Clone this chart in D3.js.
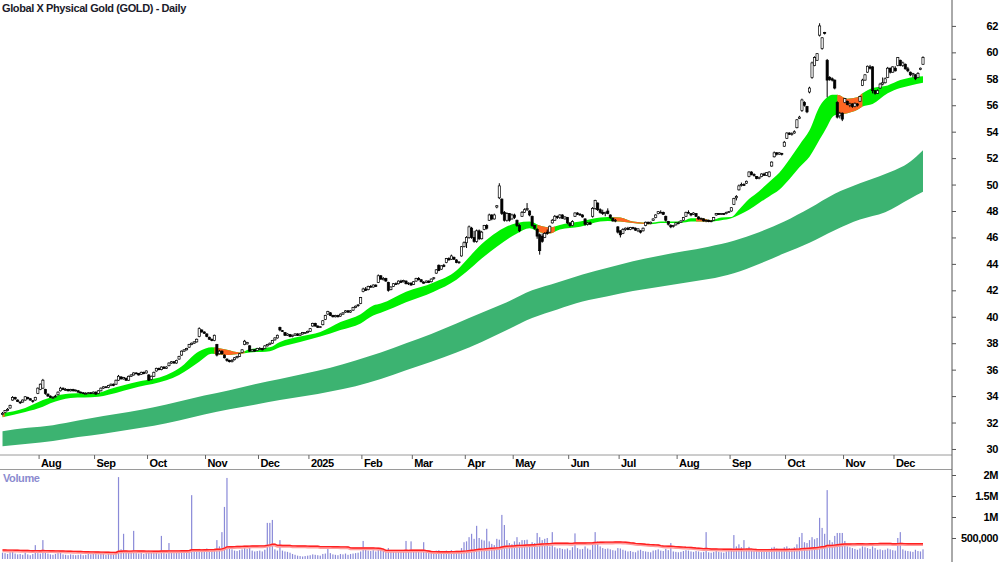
<!DOCTYPE html>
<html>
<head>
<meta charset="utf-8">
<script src="https://cdn.jsdelivr.net/npm/d3@7"></script>
<style>
  body { margin: 0; background: #fff; }
  svg text { font-family: "Liberation Sans", Arial, sans-serif; font-weight: bold; font-size: 11px; letter-spacing: -0.4px; }
</style>
</head>
<body>
<svg id="chart" width="1000" height="562"></svg>
<script>
// daily bars: [open, high, low, close, volume (thousands)]
const jul24 = [
  [32.6,32.8,32.55,32.7,150],[32.75,32.95,32.7,32.9,140],[32.9,33.1,32.85,33.0,120],[33.1,33.35,33.05,33.3,160],
  [33.7,34.0,33.65,33.9,210],[33.9,33.95,33.7,33.8,130],[33.7,33.75,33.55,33.6,110],[33.55,33.6,33.4,33.5,120],
  [33.55,33.75,33.5,33.7,100],[33.7,34.0,33.65,33.95,150],[33.9,33.95,33.75,33.8,110],[33.8,33.85,33.65,33.7,90],
  [33.65,33.7,33.5,33.6,120],[33.7,33.95,33.65,33.9,330],[34.2,34.65,34.15,34.6,140]
];
const aug24 = [
  [34.5,34.95,34.45,34.9,130],[34.6,35.3,34.55,35.2,450],[34.5,34.55,34.1,34.2,160],[34.15,34.2,33.95,34.0,130],
  [34.0,34.05,33.85,33.9,110],[33.85,34.0,33.8,33.9,100],[33.95,34.1,33.9,34.0,120],[34.1,34.35,34.05,34.3,140],
  [34.4,34.7,34.35,34.6,160],[34.6,34.65,34.45,34.5,110],[34.45,34.6,34.4,34.5,100],[34.5,34.55,34.35,34.4,90],
  [34.4,34.55,34.35,34.5,110],[34.5,34.55,34.35,34.4,100],[34.4,34.5,34.35,34.45,90],[34.4,34.45,34.25,34.3,100],
  [34.3,34.35,34.2,34.25,110],[34.25,34.3,34.15,34.2,90],[34.2,34.3,34.15,34.2,100],[34.2,34.3,34.15,34.25,120],
  [34.25,34.3,34.15,34.2,110],[34.2,34.35,34.15,34.3,130]
];
const sep24 = [
  [34.3,34.35,34.1,34.15,120],[34.2,34.45,34.15,34.4,110],[34.4,34.65,34.35,34.6,130],[34.6,34.75,34.55,34.7,120],
  [34.7,34.75,34.6,34.65,100],[34.65,34.85,34.6,34.8,140],[34.8,34.95,34.75,34.9,130],[34.9,34.95,34.75,34.8,110],
  [34.9,35.25,34.85,35.2,150],[35.2,35.6,35.15,35.5,1950],[35.45,35.5,35.25,35.3,230],[35.3,35.45,35.25,35.4,600],
  [35.35,35.4,35.15,35.2,180],[35.2,35.55,35.15,35.5,160],[35.5,35.65,35.45,35.6,150],[35.6,35.8,35.55,35.75,670],
  [35.75,35.8,35.65,35.7,140],[35.7,35.75,35.55,35.6,130],[35.65,35.85,35.6,35.8,150],[35.8,35.85,35.65,35.7,120],
  [35.75,35.95,35.7,35.9,140]
];
const oct24 = [
  [35.6,35.65,35.15,35.2,200],[35.25,35.55,35.2,35.5,150],[35.5,35.85,35.45,35.8,140],[35.9,36.15,35.85,36.1,160],
  [36.1,36.15,35.95,36.0,130],[36.0,36.25,35.95,36.2,550],[36.2,36.25,36.05,36.1,140],[36.1,36.25,36.05,36.2,130],
  [36.3,36.55,36.25,36.5,380],[36.5,36.65,36.45,36.6,160],[36.6,36.65,36.45,36.5,140],[36.5,36.75,36.45,36.7,150],
  [36.8,37.05,36.75,37.0,180],[37.1,37.45,37.05,37.4,200],[37.4,37.55,37.35,37.5,170],[37.5,37.65,37.45,37.6,160],
  [37.7,37.95,37.65,37.9,190],[37.9,38.05,37.85,38.0,1520],[38.0,38.15,37.95,38.1,210],[38.1,38.35,38.05,38.3,200],
  [38.5,39.2,38.45,39.1,240],[39.0,39.05,38.8,38.85,220],[38.85,38.9,38.7,38.75,200]
];
const nov24 = [
  [38.7,38.75,38.45,38.5,250],[38.45,38.5,38.25,38.3,220],[38.3,38.35,38.15,38.2,200],[38.2,38.65,38.15,38.6,240],
  [37.9,37.95,37.0,37.1,450],[37.2,37.5,37.15,37.4,300],[37.4,37.45,37.15,37.2,640],[37.1,37.15,36.85,36.9,1240],
  [36.8,36.85,36.6,36.7,1930],[36.7,36.75,36.55,36.6,260],[36.6,36.8,36.55,36.7,230],[36.75,36.95,36.7,36.9,200],
  [36.9,37.05,36.85,37.0,190],[37.0,37.25,36.95,37.2,210],[37.3,37.55,37.25,37.5,230],[37.9,38.25,37.85,38.15,260],
  [37.95,38.1,37.9,38.05,240],[37.8,37.85,37.35,37.4,280],[37.4,37.55,37.35,37.5,200],[37.5,37.55,37.35,37.4,180],
  [37.45,37.65,37.4,37.6,190]
];
const dec24 = [
  [37.6,37.7,37.5,37.6,200],[37.6,37.65,37.45,37.5,180],[37.6,37.85,37.55,37.8,220],[37.8,37.95,37.75,37.9,860],
  [37.9,38.05,37.85,38.0,860],[38.0,38.25,37.95,38.2,930],[38.25,38.45,38.2,38.4,230],[38.4,38.65,38.35,38.6,200],
  [39.2,39.25,38.9,39.0,450],[38.95,39.0,38.85,38.9,200],[38.8,38.85,38.55,38.6,180],[38.6,38.75,38.55,38.7,170],
  [38.65,38.7,38.45,38.5,150],[38.5,38.65,38.45,38.6,120],[38.6,38.75,38.55,38.7,100],[38.7,38.75,38.55,38.6,80],
  [38.6,38.75,38.55,38.7,70],[38.7,38.85,38.65,38.8,60],[38.8,38.85,38.7,38.8,70],[38.8,38.95,38.75,38.9,80]
];
const jan25 = [
  [38.9,39.15,38.85,39.1,90],[39.3,39.55,39.25,39.5,110],[39.5,39.55,39.25,39.3,100],[39.3,39.35,39.15,39.2,90],
  [39.2,39.3,39.15,39.25,80],[39.4,39.75,39.35,39.7,120],[39.8,40.15,39.75,40.1,130],[40.2,40.45,40.15,40.4,310],
  [40.3,40.35,40.05,40.1,140],[40.1,40.15,39.95,40.0,110],[40.0,40.15,39.95,40.1,100],[40.1,40.15,39.95,40.0,90],
  [40.05,40.25,40.0,40.2,120],[40.2,40.35,40.15,40.3,110],[40.35,40.5,40.3,40.45,130],[40.45,40.5,40.3,40.35,100],
  [40.35,40.5,40.3,40.45,120],[40.5,40.75,40.45,40.7,130],[40.7,40.85,40.65,40.8,140],[40.85,40.95,40.75,40.9,150],
  [41.0,41.5,40.95,41.45,180]
];
const feb25 = [
  [41.9,42.2,41.85,42.1,430],[42.1,42.25,41.95,42.0,220],[42.05,42.35,42.0,42.3,200],[42.3,42.4,42.2,42.25,190],
  [42.25,42.45,42.2,42.4,210],[42.4,42.45,42.25,42.3,180],[42.6,43.2,42.55,43.1,240],[43.1,43.15,42.8,42.85,220],
  [42.8,43.0,42.75,42.9,200],[42.9,42.95,42.65,42.7,190],[42.6,42.65,41.9,42.0,260],[42.05,42.3,42.0,42.25,210],
  [42.3,42.55,42.25,42.5,190],[42.5,42.6,42.4,42.45,180],[42.5,42.75,42.45,42.7,200],[42.7,42.8,42.55,42.6,190],
  [42.65,42.8,42.6,42.75,210],[42.7,42.75,42.45,42.5,430],[42.5,42.6,42.4,42.55,200],[42.55,42.6,42.35,42.4,420]
];
const mar25 = [
  [42.45,42.7,42.4,42.65,180],[42.7,42.95,42.65,42.9,190],[42.9,43.0,42.75,42.8,170],[42.8,42.85,42.6,42.65,160],
  [42.6,42.7,42.5,42.55,400],[42.6,42.75,42.55,42.7,170],[42.7,42.75,42.55,42.6,150],[42.65,42.9,42.6,42.85,160],
  [42.9,43.0,42.8,42.95,170],[43.3,43.6,43.25,43.55,200],[43.9,43.95,43.45,43.5,210],[43.6,43.9,43.55,43.85,190],
  [43.9,44.0,43.75,43.8,170],[44.1,44.45,44.05,44.4,200],[44.4,44.5,44.25,44.3,190],[44.35,44.7,44.3,44.6,210],
  [44.5,44.55,44.3,44.35,180],[44.3,44.35,44.05,44.1,170],[44.1,44.2,44.0,44.15,160],[44.6,45.35,44.55,45.3,260],
  [45.3,45.7,45.25,45.6,400]
];
const apr25 = [
  [45.6,46.1,45.2,46.0,420],[46.0,46.9,45.9,46.8,520],[46.7,46.8,45.9,46.0,600],[46.0,46.5,45.6,45.7,480],
  [45.7,46.6,45.6,46.5,790],[46.5,46.6,45.8,45.9,500],[45.9,46.5,45.85,46.4,460],[46.6,46.95,46.55,46.9,440],
  [46.9,47.0,46.6,46.7,720],[47.3,47.8,47.25,47.7,420],[47.7,47.75,47.3,47.4,360],[47.4,47.8,47.35,47.7,330],
  [48.3,48.45,48.2,48.4,480],[49.0,50.1,48.9,49.9,460],[48.9,48.95,47.7,47.8,1050],[47.9,48.0,47.2,47.3,810],
  [47.3,47.9,47.2,47.8,450],[47.8,47.85,47.2,47.3,380],[47.4,47.8,47.35,47.7,350]
];
const may25 = [
  [47.7,47.8,47.4,47.5,420],[47.3,47.35,46.8,46.9,520],[46.9,47.0,46.4,46.5,400],[47.6,48.0,47.55,47.9,450],
  [47.9,48.2,47.85,48.1,450],[48.1,48.6,48.0,48.2,460],[48.0,48.05,47.6,47.7,350],[47.6,47.65,46.8,46.9,400],
  [46.9,46.95,46.6,46.7,380],[46.6,46.7,45.9,46.1,620],[46.2,46.3,44.7,45.0,520],[46.1,46.3,45.6,45.7,450],
  [46.0,46.4,45.95,46.3,480],[46.4,46.6,46.2,46.3,500],[46.4,46.9,46.35,46.85,300],[47.1,47.4,47.05,47.3,640],
  [47.3,47.7,47.25,47.6,280],[47.6,47.65,47.4,47.5,250],[47.5,47.75,47.4,47.7,260],[47.7,47.75,47.4,47.45,240],
  [47.4,47.6,47.35,47.55,230],[47.5,47.55,47.0,47.1,250]
];
const jun25 = [
  [47.1,47.15,46.8,46.9,210],[46.9,47.3,46.85,47.2,280],[47.6,47.9,47.55,47.85,610],[47.85,47.9,47.7,47.75,260],
  [47.75,47.85,47.65,47.7,230],[47.7,47.75,47.5,47.55,240],[47.4,47.45,46.9,47.0,300],[47.0,47.15,46.9,47.1,250],
  [47.1,47.2,46.95,47.0,220],[47.6,48.3,47.5,48.2,350],[48.2,48.85,48.1,48.8,640],[48.6,48.65,48.0,48.1,420],
  [48.1,48.2,47.8,47.9,300],[47.9,48.1,47.7,47.8,260],[47.8,47.95,47.6,47.9,240],[48.0,48.2,47.75,47.8,250],
  [47.7,47.75,47.4,47.5,230],[47.45,47.5,47.2,47.25,210],[47.3,47.4,47.15,47.3,200],[46.8,46.85,46.3,46.4,260]
];
const jul25 = [
  [46.5,46.55,46.0,46.2,250],[46.3,46.7,46.25,46.6,220],[46.6,46.75,46.5,46.7,200],[46.7,46.8,46.55,46.6,180],
  [46.6,46.8,46.55,46.75,190],[46.75,46.8,46.6,46.7,170],[46.7,46.75,46.5,46.55,160],[46.5,46.7,46.4,46.65,200],
  [46.5,46.55,46.3,46.4,220],[46.5,46.75,46.45,46.7,190],[46.9,47.2,46.85,47.15,180],[47.15,47.2,47.0,47.05,170],
  [47.05,47.2,47.0,47.15,160],[47.3,47.45,47.25,47.4,200],[47.5,47.75,47.45,47.7,210],[47.8,48.0,47.75,47.95,230],
  [47.9,48.05,47.85,47.9,200],[47.9,47.95,47.7,47.75,190],[47.6,47.65,47.2,47.3,240],[47.2,47.25,46.9,47.0,210],
  [46.9,47.0,46.7,46.8,380],[46.85,46.95,46.75,46.9,180],[46.95,47.15,46.9,47.1,170]
];
const aug25 = [
  [47.1,47.2,47.0,47.1,160],[47.15,47.3,47.1,47.25,170],[47.3,47.55,47.25,47.5,190],[47.6,47.95,47.55,47.9,210],
  [47.9,48.05,47.8,47.85,200],[47.8,47.85,47.6,47.7,180],[47.75,47.9,47.7,47.85,170],[47.8,47.85,47.55,47.6,190],
  [47.55,47.6,47.35,47.4,180],[47.4,47.5,47.3,47.45,160],[47.4,47.45,47.2,47.25,170],[47.25,47.35,47.15,47.3,640],
  [47.3,47.35,47.15,47.2,160],[47.2,47.3,47.15,47.25,150],[47.3,47.55,47.25,47.5,170],[47.7,47.85,47.65,47.8,190],
  [47.8,47.85,47.7,47.75,170],[47.75,47.85,47.7,47.8,160],[47.8,47.85,47.7,47.75,150],[47.8,47.95,47.75,47.9,180],
  [47.9,48.0,47.85,47.95,200]
];
const sep25 = [
  [48.0,48.3,47.95,48.25,230],[48.5,49.0,48.45,48.95,570],[49.0,49.2,48.8,49.1,300],[49.6,50.0,49.55,49.9,350],
  [49.95,50.15,49.85,50.0,280],[50.0,50.1,49.9,49.95,450],[50.1,50.3,50.05,50.25,260],[50.6,51.0,50.55,50.95,290],
  [50.95,51.0,50.7,50.75,250],[50.75,50.85,50.6,50.7,230],[50.6,50.65,50.4,50.45,220],[50.45,50.6,50.4,50.55,200],
  [50.6,50.85,50.55,50.8,210],[50.8,50.9,50.65,50.7,200],[50.7,50.95,50.65,50.9,220],[50.6,51.0,50.55,50.95,240],
  [51.4,51.75,51.35,51.7,270],[52.1,52.5,52.05,52.4,290],[52.4,52.45,52.2,52.3,250],[52.3,52.45,52.25,52.4,230],
  [52.35,52.4,52.2,52.3,220],[52.9,53.3,52.85,53.2,280]
];
const oct25 = [
  [53.5,53.95,53.45,53.9,300],[53.9,53.95,53.75,53.8,260],[53.8,53.95,53.7,53.85,250],[53.9,54.1,53.85,54.0,280],
  [54.3,54.95,54.25,54.9,350],[55.0,55.2,54.95,55.1,520],[55.6,56.5,55.5,56.4,620],[56.2,56.3,55.9,56.0,400],
  [55.9,55.95,55.4,55.5,380],[57.0,57.4,56.9,57.3,450],[58.1,59.3,58.0,59.2,520],[59.0,59.7,58.95,59.6,470],
  [59.4,59.95,59.35,59.9,500],[61.3,62.2,61.2,62.0,980],[60.3,61.15,60.2,61.1,740],[61.5,61.55,61.35,61.45,600],
  [59.4,59.5,56.6,57.9,1640],[58.1,58.2,57.85,57.95,450],[58.0,58.1,57.8,57.9,400],[57.9,57.95,57.2,57.3,550],
  [56.2,56.3,55.0,55.1,620],[55.2,55.5,55.0,55.4,620],[55.4,55.45,54.8,54.95,620]
];
const nov25 = [
  [56.2,56.55,56.15,56.5,430],[56.3,56.35,56.0,56.05,300],[56.0,56.2,55.85,56.1,280],[56.1,56.15,55.8,55.9,260],
  [55.9,56.2,55.85,56.15,240],[56.1,56.15,55.9,56.0,220],[56.3,56.7,56.25,56.65,250],[57.5,58.0,57.45,57.9,300],
  [57.9,58.35,57.85,58.3,280],[58.5,59.0,58.45,58.95,260],[58.9,59.05,58.7,58.8,240],[58.9,58.95,56.9,57.1,300],
  [57.1,57.15,56.8,56.9,260],[56.9,57.2,56.85,57.1,220],[57.3,57.7,57.25,57.6,230],[57.6,58.1,57.5,57.7,210],
  [57.7,58.1,57.65,58.0,220],[58.1,58.9,58.05,58.8,250],[58.8,58.85,58.4,58.5,230],[58.5,58.95,58.45,58.9,210]
];
const dec25 = [
  [58.8,58.95,58.55,58.6,200],[59.0,59.65,58.95,59.6,500],[59.4,59.45,58.95,59.0,640],[59.0,59.3,58.9,59.2,230],
  [59.1,59.15,58.7,58.75,200],[58.75,58.9,58.5,58.6,190],[58.5,58.55,58.2,58.3,180],[58.3,58.45,58.1,58.4,170],
  [58.3,58.35,57.9,58.0,220],[58.1,58.5,58.05,58.4,190],[58.7,58.85,58.65,58.8,180],[59.1,59.7,59.05,59.6,230]
];

// exchange holidays in the period (weekdays without trading)
const holidays = ["2024-12-25","2024-12-26","2025-01-01","2025-01-27","2025-04-18","2025-04-21","2025-04-25","2025-06-09"];
const firstDay = "2024-07-11";

// short-term ribbon edges, read at trading-day positions
const ribbonDay  = [0,9,16,19,27,38,42,54,65,70,78,83,89,94,98,106,110,118,126,134,142,147,150,160,171,180,184,190,196,204,209,213,217,221,229,237,240,245,250,257,261,269,273,277,281,285,289,292,296,300,304,308,312,316,320,324,327,329,331,335,339,341,345,351,356,360,365];
const ribbonLow  = [32.4,32.8,33.2,33.45,33.85,33.95,34.1,34.7,35.2,35.6,36.6,37.2,37.1,37.2,37.3,37.4,37.7,38.1,38.5,39.0,39.5,40.1,40.3,41.1,41.9,42.8,43.4,44.4,45.3,46.3,46.7,46.4,46.3,46.6,46.8,47.2,47.25,47.2,47.1,47.0,47.1,47.1,47.2,47.2,47.2,47.3,47.45,47.7,48.1,48.6,49.1,49.6,50.4,51.3,52.1,53.4,54.4,55.1,55.3,55.4,55.65,55.9,56.1,56.9,57.3,57.5,57.7];
const ribbonHigh = [32.7,33.1,33.7,33.9,34.2,34.25,34.5,35.1,35.6,36.1,37.4,37.7,37.5,37.3,37.55,37.7,38.1,38.5,38.85,39.6,40.2,40.85,41.0,41.9,42.6,43.5,44.3,45.5,46.4,47.1,47.2,46.9,46.75,46.95,47.2,47.5,47.55,47.5,47.2,47.1,47.2,47.2,47.45,47.45,47.3,47.5,47.55,48.1,48.9,49.5,50.2,50.9,51.9,53.0,54.1,55.9,56.6,56.8,56.8,56.5,56.6,56.9,57.3,57.5,57.9,58.1,58.2];
// stretches where the short ribbon turns orange (day index from, to)
const downSpans = [[0,0.8],[84,96],[212,219],[242,257],[275,281],[331,341]];

// long-term band edges, every 10 trading days
const bandDay = [0,10,20,30,40,50,60,70,80,90,100,110,120,130,140,150,160,170,180,190,200,210,220,230,240,250,260,270,280,290,300,310,320,330,340,350,360,365];
const bandTop = [31.35,31.6,31.8,32.15,32.5,32.8,33.15,33.6,34.05,34.45,34.9,35.3,35.7,36.15,36.7,37.3,38.0,38.7,39.5,40.3,41.1,42.0,42.6,43.2,43.7,44.2,44.6,44.95,45.3,45.75,46.4,47.2,48.2,49.3,50.1,50.8,51.75,52.6];
const bandBot = [30.2,30.4,30.6,30.9,31.15,31.45,31.75,32.15,32.6,33.0,33.35,33.7,34.0,34.35,34.75,35.3,35.95,36.6,37.3,38.1,39.0,39.9,40.55,41.15,41.55,41.95,42.25,42.55,42.85,43.3,44.0,44.8,45.6,46.55,47.35,47.9,48.95,49.45];

const priceTicks = d3.range(30, 63, 2);
const volTicks = [500000, 1000000, 1500000, 2000000];
const volTickLabels = ["500,000", "1M", "1.5M", "2M"];
const volMaPeriod = 63;
const volMaSeed = 215; // average volume (thousands) before the first bar

const bars = [].concat(jul24, aug24, sep24, oct24, nov24, dec24, jan25, feb25, mar25,
  apr25, may25, jun25, jul25, aug25, sep25, oct25, nov25, dec25);
const N = bars.length;

// trading calendar
const fmt = d3.timeFormat("%Y-%m-%d");
const dates = [];
for (let d = d3.timeParse("%Y-%m-%d")(firstDay); dates.length < N; d = d3.timeDay.offset(d, 1)) {
  const dow = d.getDay();
  if (dow === 0 || dow === 6 || holidays.includes(fmt(d))) continue;
  dates.push(d);
}

const H = 562, axisX = 952;
const svg = d3.select("#chart");

const x = d3.scaleLinear().domain([-1, 376.5]).range([0, axisX]);
const y = d3.scaleLinear().domain([29.62, 63.96]).range([454, 0]);
const yv = d3.scaleLinear().domain([0, 2000000]).range([559, 475]);

// long-term band
const bandData = bandDay.map((d, i) => ({ d, hi: bandTop[i], lo: bandBot[i] }));
svg.append("path")
  .datum(bandData)
  .attr("fill", "#3cb371")
  .attr("d", d3.area().curve(d3.curveMonotoneX)
    .x(p => x(p.d)).y0(p => y(p.lo)).y1(p => y(p.hi)));

// short-term ribbon, green with orange stretches
const ribbonData = ribbonDay.map((d, i) => ({ d, hi: ribbonHigh[i], lo: ribbonLow[i] }));
const ribbonArea = d3.area().curve(d3.curveMonotoneX)
  .x(p => x(p.d)).y0(p => y(p.lo)).y1(p => y(p.hi));

const clip = svg.append("defs").append("clipPath").attr("id", "downClip");
clip.selectAll("rect").data(downSpans).join("rect")
  .attr("x", s => x(s[0]))
  .attr("width", s => x(s[1]) - x(s[0]))
  .attr("y", 0).attr("height", 455);

svg.append("path").datum(ribbonData).attr("fill", "#00f000").attr("d", ribbonArea);
svg.append("path").datum(ribbonData).attr("fill", "#ff6622")
  .attr("clip-path", "url(#downClip)").attr("d", ribbonArea);

// candles
const candles = svg.append("g");
candles.selectAll("line").data(bars).join("line")
  .attr("x1", (b, i) => x(i)).attr("x2", (b, i) => x(i))
  .attr("y1", b => y(b[1])).attr("y2", b => y(b[2]))
  .attr("stroke", "#000").attr("stroke-width", 1);
candles.selectAll("rect").data(bars).join("rect")
  .attr("x", (b, i) => x(i) - 1.1)
  .attr("width", 2.2)
  .attr("y", b => y(Math.max(b[0], b[3])))
  .attr("height", b => Math.max(0.8, Math.abs(y(b[0]) - y(b[3]))))
  .attr("fill", b => b[3] >= b[0] ? "#fff" : "#000")
  .attr("stroke", "#000").attr("stroke-width", 0.7);

// frame lines
svg.append("line").attr("x1", 0).attr("x2", axisX).attr("y1", 455).attr("y2", 455).attr("stroke", "#9a9a9a");
svg.append("line").attr("x1", 0).attr("x2", axisX).attr("y1", 469.5).attr("y2", 469.5).attr("stroke", "#9a9a9a");
svg.append("line").attr("x1", axisX).attr("x2", axisX).attr("y1", 0).attr("y2", H).attr("stroke", "#555");

// month axis
const monthStarts = d3.range(1, N).filter(i => dates[i].getMonth() !== dates[i - 1].getMonth());
const mAxis = svg.append("g");
mAxis.selectAll("line").data(monthStarts).join("line")
  .attr("x1", i => x(i - 0.5)).attr("x2", i => x(i - 0.5))
  .attr("y1", 455).attr("y2", 459).attr("stroke", "#666");
mAxis.selectAll("text").data(monthStarts).join("text")
  .attr("x", i => x(i - 0.5) + 2).attr("y", 467)
  .text(i => dates[i].getMonth() === 0 ? d3.timeFormat("%Y")(dates[i]) : d3.timeFormat("%b")(dates[i]));

// price axis
const pAxis = svg.append("g").attr("transform", `translate(${axisX},0)`)
  .call(d3.axisRight(y).tickValues(priceTicks).tickSize(4).tickFormat(d3.format("d")));
pAxis.select(".domain").remove();
pAxis.selectAll(".tick line").attr("stroke", "#555");
pAxis.selectAll(".tick text").attr("x", 46).attr("text-anchor", "end")
  .attr("fill", "#000").style("font-size", "11px").style("font-family", "'Liberation Sans', Arial, sans-serif");

// volume
const volG = svg.append("g");
volG.selectAll("rect").data(bars).join("rect")
  .attr("x", (b, i) => x(i) - 0.6).attr("width", 1.2)
  .attr("y", b => yv(b[4] * 1000))
  .attr("height", b => yv(0) - yv(b[4] * 1000))
  .attr("fill", "#8a8ad8");

const volMa = bars.map((b, i) => {
  let sum = 0;
  for (let k = i - volMaPeriod + 1; k <= i; k++) sum += k < 0 ? volMaSeed : bars[k][4];
  return sum / volMaPeriod * 1000;
});
svg.append("path").datum(volMa)
  .attr("fill", "none").attr("stroke", "#ff9c9c").attr("stroke-width", 3)
  .attr("transform", "translate(0,0.8)")
  .attr("d", d3.line().x((v, i) => x(i)).y(v => yv(v)));
svg.append("path").datum(volMa)
  .attr("fill", "none").attr("stroke", "#ff2020").attr("stroke-width", 1.4)
  .attr("d", d3.line().x((v, i) => x(i)).y(v => yv(v)));

const vAxis = svg.append("g").attr("transform", `translate(${axisX},0)`)
  .call(d3.axisRight(yv).tickValues(volTicks).tickSize(4).tickFormat((v, i) => volTickLabels[i]));
vAxis.select(".domain").remove();
vAxis.selectAll(".tick line").attr("stroke", "#555");
vAxis.selectAll(".tick text").attr("x", 46).attr("text-anchor", "end")
  .attr("fill", "#000").style("font-size", "11px").style("font-family", "'Liberation Sans', Arial, sans-serif");

// titles
svg.append("text").attr("x", 2).attr("y", 12).attr("fill", "#1b1b2a")
  .text("Global X Physical Gold (GOLD) - Daily");
svg.append("text").attr("x", 3).attr("y", 482).attr("fill", "#8b8bcf")
  .text("Volume");
</script>
</body>
</html>
